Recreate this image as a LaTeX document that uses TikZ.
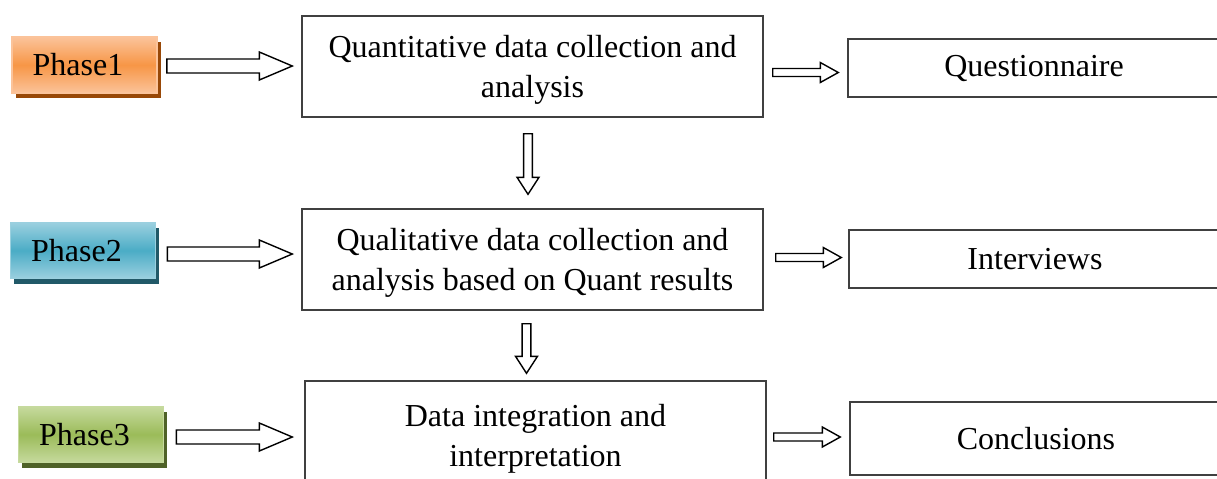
\documentclass[tikz,border=0pt]{standalone}
\usepackage{fontspec}
\setmainfont{Liberation Serif}
\usetikzlibrary{calc,shadows}

\definecolor{orangemid}{HTML}{F79646}
\definecolor{orangelight}{HTML}{FBC39A}
\definecolor{orangedark}{HTML}{984807}
\definecolor{bluemid}{HTML}{4BACC6}
\definecolor{bluelight}{HTML}{9BD0DF}
\definecolor{bluedark}{HTML}{215968}
\definecolor{greenmid}{HTML}{9BBB59}
\definecolor{greenlight}{HTML}{C6DA9E}
\definecolor{greendark}{HTML}{4F6228}

\tikzset{
  phase/.style n args={3}{draw=#2, line width=0.8pt, top color=#2, bottom color=#2, middle color=#1,
    minimum width=72.5pt, minimum height=28pt, execute at begin node={\kern-6.5pt},
    drop shadow={fill=#3, opacity=1, shadow xshift=1.8pt, shadow yshift=-2.6pt}},
  method/.style={draw=black!75, line width=0.7pt, minimum width=230.5pt, minimum height=50.5pt,
    align=center, text depth=0.5pt},
  outcome/.style={draw=black!75, line width=0.7pt, minimum width=186pt, minimum height=29pt},
  % hollow block arrow: shaft half width, head half width, head length
  hollow/.style n args={3}{draw=black, fill=white, line width=0.7pt,
    to path={($(\tikztotarget)!#3!(\tikztostart)$) coordinate (hb)
      ($(\tikztostart)!#1!90:(\tikztotarget)$) -- ($(hb)!#1!90:(\tikztotarget)$)
      -- ($(hb)!#2!90:(\tikztotarget)$) -- (\tikztotarget)
      -- ($(hb)!#2!-90:(\tikztotarget)$) -- ($(hb)!#1!-90:(\tikztotarget)$)
      -- ($(\tikztostart)!#1!-90:(\tikztotarget)$) -- cycle}},
  bigarrow/.style={hollow={3.5pt}{7pt}{16.5pt}},
  smallarrow/.style={hollow={2pt}{5pt}{9pt}},
  downarrow/.style={hollow={2.2pt}{5.5pt}{8.5pt}}
}

\begin{document}
\begin{tikzpicture}[x=0.5pt, y=-0.5pt, font=\fontsize{16}{20}\selectfont]
\useasboundingbox (0,0) rectangle (1217,478);

% phases
\node[phase={orangemid}{orangelight}{orangedark}] (p1) at (84.5,65) {Phase1};
\node[phase={bluemid}{bluelight}{bluedark}] (p2) at (83,250.5) {Phase2};
\node[phase={greenmid}{greenlight}{greendark}] (p3) at (91,434.5) {Phase3};

% what each phase does
\node[method] (quant) at (532.5,66.5) {Quantitative data collection and\\analysis};
\node[method] (qual) at (532.5,259.5) {Qualitative data collection and\\analysis based on Quant results};
\node[method, minimum height=55pt] (integ) at (535.5,436) {Data integration and\\interpretation};

% outcomes
\node[outcome] (quest) at (1034,68) {Questionnaire};
\node[outcome] (inter) at (1035,259) {Interviews};
\node[outcome, minimum height=36.5pt] (concl) at (1036,438.5) {Conclusions};

% phase -> method
\draw[bigarrow] ([xshift=4.5pt,yshift=-0.5pt]p1.east) to ([xshift=-4.5pt,yshift=0.25pt]quant.west);
\draw[bigarrow] ([xshift=5.5pt,yshift=-1.75pt]p2.east) to ([xshift=-4.5pt,yshift=2.75pt]qual.west);
\draw[bigarrow] ([xshift=6pt,yshift=-1.25pt]p3.east) to ([xshift=-6pt,yshift=-0.5pt]integ.west);

% method -> outcome
\draw[smallarrow] ([xshift=4.5pt,yshift=-3pt]quant.east) to ([xshift=-4.5pt,yshift=-2.25pt]quest.west);
\draw[smallarrow] ([xshift=6pt,yshift=1pt]qual.east) to ([xshift=-3.5pt,yshift=0.75pt]inter.west);
\draw[smallarrow] ([xshift=3.5pt,yshift=-0.5pt]integ.east) to ([xshift=-4.5pt,yshift=0.75pt]concl.west);

% method -> next method
\draw[downarrow] ([xshift=-2.25pt,yshift=-8pt]quant.south) to ([xshift=-2.25pt,yshift=7pt]qual.north);
\draw[downarrow] ([xshift=-3pt,yshift=-6.5pt]qual.south) to ([xshift=-4.5pt,yshift=3.5pt]integ.north);
\end{tikzpicture}
\end{document}
